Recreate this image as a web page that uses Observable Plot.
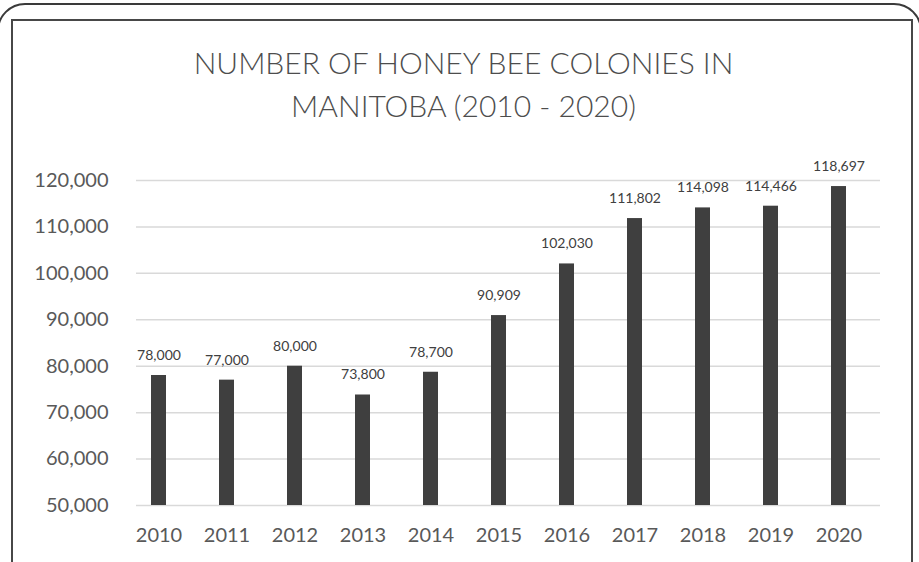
<!DOCTYPE html>
<html>
<head>
<meta charset="utf-8">
<script src="https://cdn.jsdelivr.net/npm/d3@7"></script>
<script src="https://cdn.jsdelivr.net/npm/@observablehq/plot@0.6"></script>
<style>
  html, body { margin: 0; padding: 0; background: #fff; }
  #wrap { position: relative; width: 919px; height: 562px; overflow: hidden; background: #fff; font-family: Lato, "Open Sans", sans-serif; }
  #title { position: absolute; left: 4px; top: 41px; width: 919px; text-align: center; font-size: 30px; line-height: 43px; font-weight: 300; color: #4d4d4d; z-index: 3; }
  #chart { position: absolute; left: 0; top: 140px; }
  .outer { position: absolute; left: -3px; top: 3px; width: 921px; height: 640px; border: 2px solid #3a3a3a; border-radius: 28px; z-index: 4; pointer-events: none; }
  .inner { position: absolute; left: 11px; top: 19px; width: 898px; height: 640px; border: 2px solid #474747; z-index: 4; pointer-events: none; }
</style>
</head>
<body>
<div id="wrap">
  <div id="title">NUMBER OF HONEY BEE COLONIES IN<br>MANITOBA (2010 - 2020)</div>
  <div id="chart"></div>
  <div class="outer"></div>
  <div class="inner"></div>
</div>
<script>
const years = ["2010","2011","2012","2013","2014","2015","2016","2017","2018","2019","2020"];
const colonies = [78000, 77000, 80000, 73800, 78700, 90909, 102030, 111802, 114098, 114466, 118697];
const yTicks = [50000, 60000, 70000, 80000, 90000, 100000, 110000, 120000];
const yMin = 50000;
const yMax = 120000;

const data = years.map((y, i) => ({year: y, value: colonies[i]}));
const fmt = d3.format(",");

const chart = Plot.plot({
  width: 919,
  height: 422,
  marginTop: 40,
  marginBottom: 57,
  marginLeft: 136,
  marginRight: 39,
  style: {background: "transparent", fontFamily: "Lato, 'Open Sans', sans-serif"},
  x: {domain: years, paddingInner: 0.7794, paddingOuter: 0.36, align: 0.316, label: null},
  y: {domain: [yMin, yMax], label: null},
  marks: [
    Plot.gridY(yTicks, {stroke: "#d9d9d9", strokeOpacity: 1, strokeWidth: 1.5}),
    Plot.axisY(yTicks, {tickSize: 0, tickPadding: 28, tickFormat: fmt, fontSize: 20, fill: "#595959", label: null}),
    Plot.axisX({tickSize: 0, tickPadding: 22, fontSize: 20, fill: "#595959", label: null}),
    Plot.barY(data, {x: "year", y1: () => yMin, y2: "value", fill: "#3f3f3f"}),
    Plot.text(data, {x: "year", y: "value", text: d => fmt(d.value), dy: -20, fontSize: 14, fill: "#404040"})
  ]
});
document.getElementById("chart").appendChild(chart);
</script>
</body>
</html>
